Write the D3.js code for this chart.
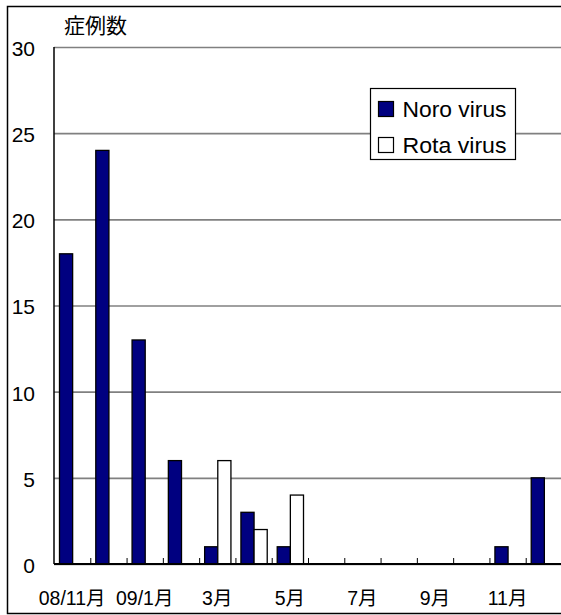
<!DOCTYPE html>
<html>
<head>
<meta charset="utf-8">
<script src="https://cdn.jsdelivr.net/npm/d3@7"></script>
<style>
  html, body { margin: 0; padding: 0; background: #fff; }
  svg { display: block; }
  text { font-family: "Liberation Sans", Arial, "Noto Sans CJK JP", sans-serif; fill: #000; }
</style>
</head>
<body>
<svg id="chart" width="561" height="615"></svg>
<script>
// Monthly case counts, Nov 2008 – Dec 2009
const categories = ["2008-11", "2008-12", "2009-01", "2009-02", "2009-03", "2009-04", "2009-05",
                    "2009-06", "2009-07", "2009-08", "2009-09", "2009-10", "2009-11", "2009-12"];
const tickLabels = ["08/11月", "", "09/1月", "", "3月", "", "5月", "", "7月", "", "9月", "", "11月", ""];
const noroValues = [18, 24, 13, 6, 1, 3, 1, 0, 0, 0, 0, 0, 1, 5];
const rotaValues = [0, 0, 0, 0, 6, 2, 4, 0, 0, 0, 0, 0, 0, 0];
const seriesNames = ["Noro virus", "Rota virus"];
const seriesColors = ["#000080", "#ffffff"];
const yTicks = [0, 5, 10, 15, 20, 25, 30];
const yTitle = "症例数";

const svg = d3.select("#chart");
const plotLeft = 54, plotRight = 562, plotTop = 47, plotBottom = 564;

// outer frame
svg.append("rect")
  .attr("x", 7.5).attr("y", 6.5)
  .attr("width", 600).attr("height", 607)
  .attr("fill", "#fff").attr("stroke", "#000").attr("stroke-width", 1.5);

const x = d3.scaleBand().domain(categories).range([plotLeft, plotRight]).padding(0);
const xs = d3.scaleBand().domain(seriesNames).range([0, x.bandwidth()]).paddingInner(0).paddingOuter(0.38);
const y = d3.scaleLinear().domain([0, 30]).range([plotBottom, plotTop]);

// y axis with gridlines
const yAxis = svg.append("g")
  .attr("transform", `translate(${plotLeft},0)`)
  .call(d3.axisLeft(y).tickValues(yTicks).tickSize(-(plotRight - plotLeft)).tickPadding(19));
yAxis.select(".domain").remove();
yAxis.selectAll(".tick line").attr("stroke", "#808080").attr("stroke-width", 1.6);
yAxis.selectAll(".tick text").attr("font-size", 21).attr("dy", "0.4em")
  .style("font-family", "\"Liberation Sans\", Arial, sans-serif");

// vertical axis line
svg.append("line")
  .attr("x1", plotLeft).attr("x2", plotLeft).attr("y1", plotTop).attr("y2", plotBottom)
  .attr("stroke", "#000").attr("stroke-width", 1.5);

// bars
const data = categories.map((c, i) => ({ cat: c, values: [noroValues[i], rotaValues[i]] }));
const groups = svg.append("g").selectAll("g")
  .data(data).join("g")
  .attr("transform", d => `translate(${x(d.cat)},0)`);
groups.selectAll("rect")
  .data(d => d.values.map((v, k) => ({ key: seriesNames[k], value: v, color: seriesColors[k] })).filter(e => e.value > 0))
  .join("rect")
  .attr("x", e => xs(e.key) + 0.5)
  .attr("width", xs.bandwidth())
  .attr("y", e => y(e.value))
  .attr("height", e => y(0) - y(e.value))
  .attr("fill", e => e.color)
  .attr("stroke", "#000")
  .attr("stroke-width", 1.3);

// x axis: labels, boundary ticks and baseline
const xAxis = svg.append("g")
  .attr("transform", `translate(0,${plotBottom})`)
  .call(d3.axisBottom(x).tickSize(0).tickPadding(27)
    .tickFormat((d, i) => tickLabels[i]));
xAxis.select(".domain").remove();
xAxis.selectAll(".tick text").attr("font-size", 19.5);

svg.append("g").selectAll("line")
  .data(categories.slice(1))
  .join("line")
  .attr("x1", d => x(d) + 0.5).attr("x2", d => x(d) + 0.5)
  .attr("y1", plotBottom).attr("y2", plotBottom - 6)
  .attr("stroke", "#000").attr("stroke-width", 1);

svg.append("line")
  .attr("x1", plotLeft).attr("x2", plotRight).attr("y1", plotBottom).attr("y2", plotBottom)
  .attr("stroke", "#000").attr("stroke-width", 2);

// axis title
svg.append("text")
  .attr("x", 64).attr("y", 33)
  .attr("font-size", 21)
  .text(yTitle);

// legend
const legend = svg.append("g").attr("transform", "translate(370.5,88.5)");
legend.append("rect")
  .attr("width", 145).attr("height", 71)
  .attr("fill", "#fff").attr("stroke", "#000").attr("stroke-width", 1.2);
const items = legend.selectAll("g.item")
  .data(seriesNames).join("g").attr("class", "item")
  .attr("transform", (d, i) => `translate(8,${13 + i * 36})`);
items.append("rect")
  .attr("width", 15).attr("height", 15)
  .attr("fill", (d, i) => seriesColors[i])
  .attr("stroke", "#000").attr("stroke-width", 1.2);
items.append("text")
  .attr("x", 24).attr("y", 8).attr("dy", "0.36em")
  .attr("font-size", 22)
  .attr("textLength", 104)
  .attr("lengthAdjust", "spacingAndGlyphs")
  .text(d => d);
</script>
</body>
</html>
